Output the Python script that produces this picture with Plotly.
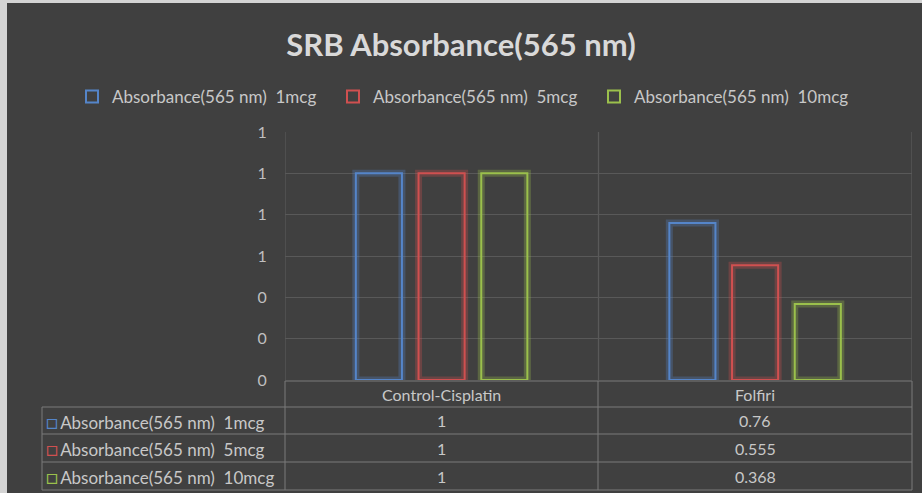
import plotly.graph_objects as go

# ---- data ----
categories = ["Control-Cisplatin", "Folfiri"]
series_names = ["Absorbance(565 nm)\u00a0\u00a01mcg",
                "Absorbance(565 nm)\u00a0\u00a05mcg",
                "Absorbance(565 nm)\u00a0\u00a010mcg"]
values_1mcg = [1, 0.76]
values_5mcg = [1, 0.555]
values_10mcg = [1, 0.368]
title_text = "SRB Absorbance(565 nm)"

series_values = [values_1mcg, values_5mcg, values_10mcg]
colors = ["#5585c9", "#d05050", "#9bc04c"]
glow = ["rgba(85,133,201,0.3)", "rgba(208,80,80,0.3)", "rgba(155,192,76,0.3)"]

W, H = 922, 493
PL, PR, PT, PB = 285, 912, 132, 380  # plot area px
FONT = "Lato"
BG = "#404040"


def px2x(px):
    return (px - PL) / (PR - PL)


def px2y(py):
    return (PB - py) / (PB - PT)


xs = list(range(len(categories)))
offsets = [-0.274, -0.074, 0.126]
bar_w = 0.147
legend_ids = ["legend", "legend2", "legend3"]
legend_px = [72, 333, 594]

fig = go.Figure()
for name, vals, c, g, off, lid in zip(series_names, series_values, colors, glow, offsets, legend_ids):
    fig.add_trace(go.Bar(x=xs, y=vals, offset=off, width=bar_w, showlegend=False,
                         marker=dict(color="rgba(0,0,0,0)", line=dict(color=g, width=7)),
                         hoverinfo="skip"))
    fig.add_trace(go.Bar(x=xs, y=vals, offset=off, width=bar_w, name=name, legend=lid,
                         marker=dict(color="rgba(0,0,0,0)", line=dict(color=c, width=2))))

shapes = []
# outer light frame + dark chart background
shapes.append(dict(type="rect", xref="paper", yref="paper", layer="below",
                   x0=px2x(7), x1=px2x(W + 5), y0=px2y(H + 5), y1=px2y(3),
                   fillcolor=BG, line=dict(width=0)))
grid = "#595959"
tline = "#7a7a7a"
# category separators in plot area
for xv in [-0.5, 0.5, 1.5]:
    shapes.append(dict(type="line", xref="x", yref="paper", x0=xv, x1=xv, y0=0, y1=1,
                       line=dict(color=grid, width=1.3)))

# data table
col_edges = [42, 285, 598, 912]
row_edges = [381, 407, 434, 462, 490]
shapes.append(dict(type="line", xref="paper", yref="paper", x0=px2x(285), x1=px2x(912),
                   y0=px2y(row_edges[0]), y1=px2y(row_edges[0]), line=dict(color=tline, width=1)))
for ry in row_edges[1:]:
    shapes.append(dict(type="line", xref="paper", yref="paper", x0=px2x(42), x1=px2x(912),
                       y0=px2y(ry), y1=px2y(ry), line=dict(color=tline, width=1)))
for cx in col_edges[1:]:
    shapes.append(dict(type="line", xref="paper", yref="paper", x0=px2x(cx), x1=px2x(cx),
                       y0=px2y(row_edges[0]), y1=px2y(row_edges[-1]), line=dict(color=tline, width=1)))
shapes.append(dict(type="line", xref="paper", yref="paper", x0=px2x(42), x1=px2x(42),
                   y0=px2y(row_edges[1]), y1=px2y(row_edges[-1]), line=dict(color=tline, width=1)))

txt = "#c8c8c8"
FS = 17
annotations = []
col_centers = [(col_edges[i] + col_edges[i + 1]) / 2 for i in range(1, 3)]
for cat, cc in zip(categories, col_centers):
    annotations.append(dict(xref="paper", yref="paper", x=px2x(cc), y=px2y((row_edges[0] + row_edges[1]) / 2),
                            text=cat, showarrow=False, font=dict(family=FONT, size=16, color=txt),
                            xanchor="center", yanchor="middle"))
for i, (name, vals, c) in enumerate(zip(series_names, series_values, colors)):
    yc = px2y((row_edges[i + 1] + row_edges[i + 2]) / 2)
    annotations.append(dict(xref="paper", yref="paper", x=px2x(44), y=yc,
                            text=f"<span style='color:{c};font-size:20px'>\u25a1</span>\u2009{name}",
                            showarrow=False,
                            font=dict(family=FONT, size=FS, color=txt), xanchor="left", yanchor="middle"))
    for v, cc in zip(vals, col_centers):
        annotations.append(dict(xref="paper", yref="paper", x=px2x(cc), y=yc,
                                text=f"{v:g}", showarrow=False,
                                font=dict(family=FONT, size=16, color=txt),
                                xanchor="center", yanchor="middle"))

legend_layout = {}
for lid, lx in zip(legend_ids, legend_px):
    legend_layout[lid] = dict(orientation="h", x=lx / W, xref="container", xanchor="left",
                              y=px2y(97), yanchor="middle", font=dict(family=FONT, size=FS, color=txt),
                              bgcolor="rgba(0,0,0,0)", itemwidth=30)

fig.update_layout(
    width=W, height=H,
    margin=dict(l=PL, r=W - PR, t=PT, b=H - PB, pad=0, autoexpand=False),
    paper_bgcolor="#d4d4d4",
    plot_bgcolor="rgba(0,0,0,0)",
    barmode="overlay",
    title=dict(text=title_text, x=0.5, xref="container", xanchor="center",
               y=1 - 45 / H, yref="container", yanchor="middle",
               font=dict(family=FONT, size=31, color="#d9d9d9", weight="bold")),
    xaxis=dict(range=[-0.5, 1.5], showticklabels=False, showgrid=False, zeroline=False,
               showline=False, ticks=""),
    yaxis=dict(range=[0, 1.2], dtick=0.2, tick0=0, tickformat=".0f", gridcolor=grid, gridwidth=1.3,
               zeroline=False, showline=False, ticks="outside", ticklen=14, tickcolor="rgba(0,0,0,0)",
               tickfont=dict(family=FONT, size=16, color="#bfbfbf")),
    shapes=shapes,
    annotations=annotations,
    showlegend=True,
    **legend_layout,
)

fig.write_html("out.html", config={"displayModeBar": False},
               post_script="document.body.style.margin='0';")
